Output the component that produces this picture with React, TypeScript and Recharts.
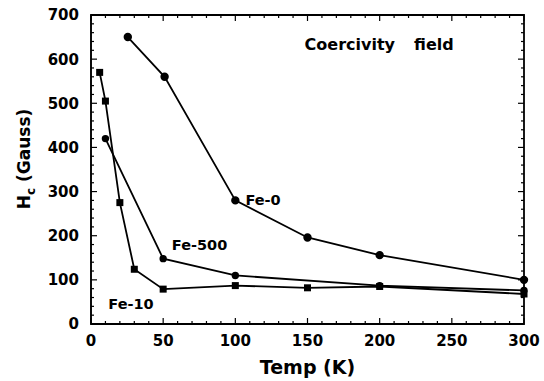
import {
  LineChart,
  Line,
  XAxis,
  YAxis,
  ReferenceDot,
  ReferenceArea,
} from 'recharts';

const FONT = '"DejaVu Sans", sans-serif';

// Temp (K) vs coercivity field Hc (Gauss)
const fe0 = [
  { t: 25.5, hc: 650 },
  { t: 51, hc: 560 },
  { t: 100, hc: 280 },
  { t: 150, hc: 196 },
  { t: 200, hc: 156 },
  { t: 300, hc: 100 },
];
const fe10 = [
  { t: 6, hc: 570 },
  { t: 10, hc: 505 },
  { t: 20, hc: 275 },
  { t: 30, hc: 124 },
  { t: 50, hc: 79 },
  { t: 100, hc: 87 },
  { t: 150, hc: 82 },
  { t: 200, hc: 85 },
  { t: 300, hc: 68 },
];
const fe500 = [
  { t: 10, hc: 420 },
  { t: 50, hc: 148 },
  { t: 100, hc: 110 },
  { t: 200, hc: 87 },
  { t: 300, hc: 76 },
];

const xTicks = [0, 50, 100, 150, 200, 250, 300];
const xMinorTicks = [
  10, 20, 30, 40, 60, 70, 80, 90, 110, 120, 130, 140, 160, 170, 180, 190,
  210, 220, 230, 240, 260, 270, 280, 290,
];
const yTicks = [0, 100, 200, 300, 400, 500, 600, 700];
const yMinorTicks = [
  20, 40, 60, 80, 120, 140, 160, 180, 220, 240, 260, 280, 320, 340, 360, 380,
  420, 440, 460, 480, 520, 540, 560, 580, 620, 640, 660, 680,
];

// series labels, placed in data coordinates
const seriesLabels = [
  { text: 'Fe-0', t: 107, hc: 281 },
  { text: 'Fe-500', t: 56, hc: 179 },
  { text: 'Fe-10', t: 12, hc: 45 },
];

const W = 544;
const H = 381;
const M = { top: 15, right: 20, left: 91, bottom: 57 };
const PLOT_W = W - M.left - M.right;
const PLOT_H = H - M.top - M.bottom;

const allX = [...xTicks, ...xMinorTicks].sort((a, b) => a - b);
const allY = [...yTicks, ...yMinorTicks].sort((a, b) => a - b);

const SquareDot = (props: any) => {
  const { cx, cy, index } = props;
  if (cx == null || cy == null) return null;
  return <rect key={index} x={cx - 3.5} y={cy - 3.5} width={7} height={7} fill="#000" />;
};

// bottom axis tick: inward marks on bottom and top edges, label for majors
const XTick = (props: any) => {
  const { x, y, payload } = props;
  const major = xTicks.includes(payload.value);
  const len = major ? 6 : 3;
  return (
    <g>
      <line x1={x} y1={y} x2={x} y2={y - len} stroke="#000" strokeWidth={1.2} />
      <line x1={x} y1={y - PLOT_H} x2={x} y2={y - PLOT_H + len} stroke="#000" strokeWidth={1.2} />
      {major && (
        <text x={x} y={y + 22} textAnchor="middle" fill="#000" fontSize={15} fontWeight="bold" fontFamily={FONT}>
          {payload.value}
        </text>
      )}
    </g>
  );
};

// left axis tick: inward marks on left and right edges, label for majors
const YTick = (props: any) => {
  const { x, y, payload } = props;
  const major = yTicks.includes(payload.value);
  const len = major ? 6 : 3;
  return (
    <g>
      <line x1={x} y1={y} x2={x + len} y2={y} stroke="#000" strokeWidth={1.2} />
      <line x1={x + PLOT_W} y1={y} x2={x + PLOT_W - len} y2={y} stroke="#000" strokeWidth={1.2} />
      {major && (
        <text x={x - 12} y={y} dy="0.36em" textAnchor="end" fill="#000" fontSize={15} fontWeight="bold" fontFamily={FONT}>
          {payload.value}
        </text>
      )}
    </g>
  );
};

export default function App() {
  return (
    <div style={{ position: 'absolute', left: 0, top: 0, width: W, height: H, background: '#fff' }}>
      <LineChart
        width={W}
        height={H}
        margin={{ top: M.top, right: M.right, bottom: 0, left: 0 }}
      >
        <XAxis
          xAxisId="x"
          dataKey="t"
          type="number"
          domain={[0, 300]}
          ticks={allX}
          interval={0}
          height={M.bottom}
          stroke="#000"
          tickLine={false}
          tickSize={0}
          tickMargin={0}
          tick={<XTick />}
          label={{
            value: 'Temp (K)',
            position: 'insideBottom',
            offset: 7,
            fill: '#000',
            fontSize: 19,
            fontWeight: 'bold',
            fontFamily: FONT,
          }}
        />
        <YAxis
          yAxisId="y"
          type="number"
          domain={[0, 700]}
          ticks={allY}
          interval={0}
          width={M.left}
          stroke="#000"
          tickLine={false}
          tickSize={0}
          tickMargin={0}
          tick={<YTick />}
          label={{
            content: () => (
              <text
                x={24}
                y={159}
                transform="rotate(-90, 24, 159)"
                textAnchor="middle"
                dominantBaseline="central"
                fill="#000"
                fontFamily={FONT}
                fontWeight="bold"
                fontSize={17}
              >
                <tspan>H</tspan>
                <tspan fontSize={12} dy={7}>c</tspan>
                <tspan dy={-7}> (Gauss)</tspan>
              </text>
            ),
          }}
        />

        {/* plot frame */}
        <ReferenceArea xAxisId="x" yAxisId="y" x1={0} x2={300} y1={0} y2={700}
          fill="none" stroke="#000" strokeWidth={1.8} />

        <Line xAxisId="x" yAxisId="y" data={fe0} dataKey="hc" stroke="#000" strokeWidth={1.8}
          dot={{ r: 3.3, fill: '#000', stroke: '#000' }} isAnimationActive={false} />
        <Line xAxisId="x" yAxisId="y" data={fe500} dataKey="hc" stroke="#000" strokeWidth={1.8}
          dot={{ r: 2.8, fill: '#000', stroke: '#000' }} isAnimationActive={false} />
        <Line xAxisId="x" yAxisId="y" data={fe10} dataKey="hc" stroke="#000" strokeWidth={1.8}
          dot={<SquareDot />} isAnimationActive={false} />

        {seriesLabels.map((s) => (
          <ReferenceDot
            key={s.text}
            xAxisId="x"
            yAxisId="y"
            x={s.t}
            y={s.hc}
            r={0}
            stroke="none"
            label={{ value: s.text, position: 'right', offset: 0, fill: '#000', fontSize: 14.5, fontWeight: 'bold', fontFamily: FONT }}
          />
        ))}
        <ReferenceDot
          xAxisId="x"
          yAxisId="y"
          x={148}
          y={635}
          r={0}
          stroke="none"
          label={{
            content: (p: any) => (
              <text x={p.viewBox.x} y={p.viewBox.y} dominantBaseline="central" fill="#000"
                fontFamily={FONT} fontWeight="bold" fontSize={16}>
                <tspan>Coercivity</tspan>
                <tspan dx={19}>field</tspan>
              </text>
            ),
          }}
        />
      </LineChart>
    </div>
  );
}
